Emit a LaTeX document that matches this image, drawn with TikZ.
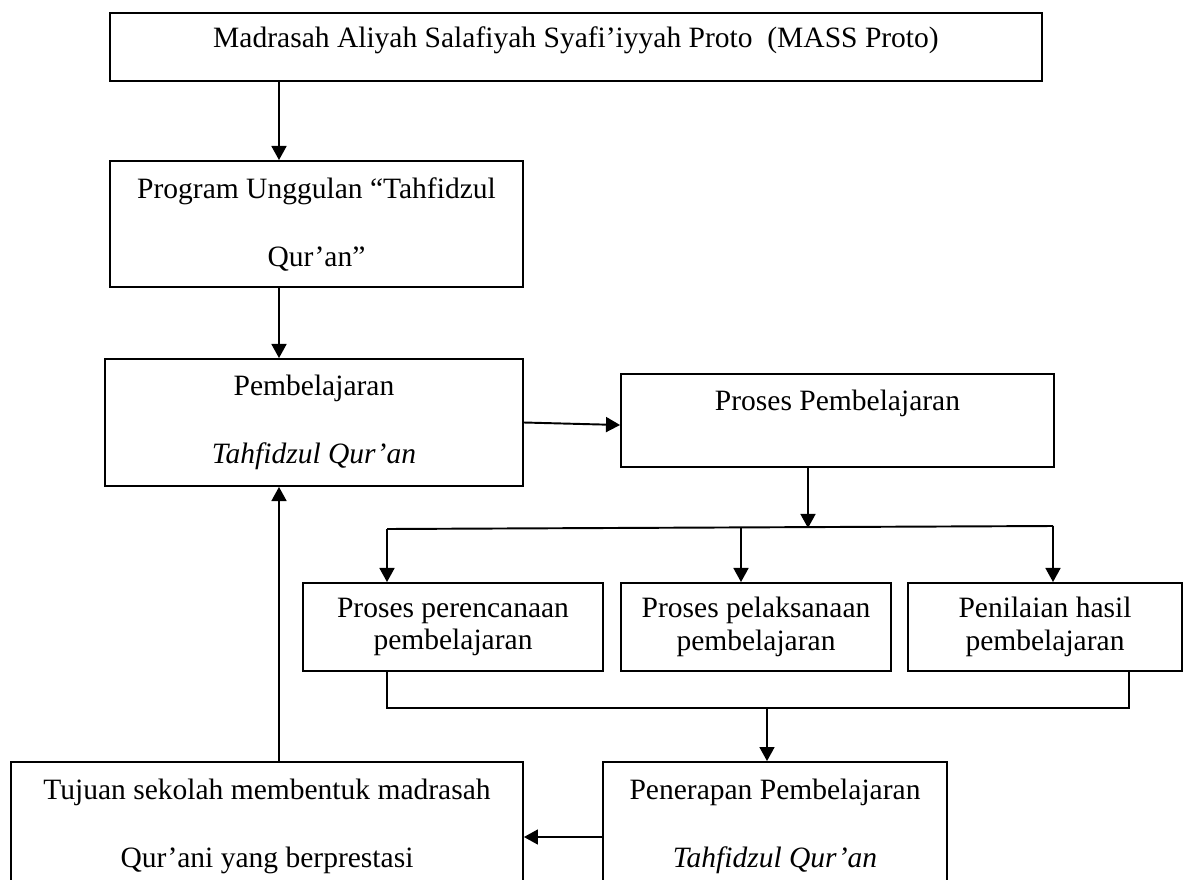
\documentclass[tikz,border=0pt]{standalone}
\usepackage{fontspec}
\setmainfont{Liberation Serif}
\usetikzlibrary{arrows.meta, calc}

\begin{document}
\begin{tikzpicture}[x=0.02cm, y=-0.02cm, line width=1.1pt,
  font=\fontsize{16.8}{18.5}\selectfont, >={Triangle[length=8pt,width=8.5pt]},
  box/.style={draw, line width=1.1pt, align=center, inner sep=0pt}]
  \useasboundingbox (0,0) rectangle (1186,879);
  \clip (0,0) rectangle (1186,879);

  \node[box, minimum width=18.64cm, minimum height=1.36cm, text depth=11.6pt] (mass) at (576,47)
    {Madrasah Aliyah Salafiyah Syafi’iyyah Proto~~(MASS Proto)};
  \node[box, minimum width=8.26cm, minimum height=2.52cm] (unggul) at (316.5,224)
    {Program Unggulan “Tahfidzul\\[20.2pt] Qur’an”};
  \node[box, minimum width=8.36cm, minimum height=2.54cm] (pemb) at (314,422.5)
    {Pembelajaran\\[20.2pt] \textit{Tahfidzul Qur’an}};
  \node[box, minimum width=8.66cm, minimum height=1.86cm, text depth=23.6pt] (proses) at (837.5,420.5)
    {Proses Pembelajaran};

  \node[box, minimum width=6cm, minimum height=1.76cm] (rencana) at (453,627)
    {Proses perencanaan\\ pembelajaran};
  \node[box, minimum width=5.4cm, minimum height=1.76cm] (laksana) at (756,627)
    {Proses pelaksanaan\\ pembelajaran};
  \node[box, minimum width=5.48cm, minimum height=1.76cm] (nilai) at (1045,627)
    {Penilaian hasil\\ pembelajaran};

  % bottom row runs off the page
  \node[box, minimum width=6.88cm, minimum height=2.56cm] (terap) at (775,826)
    {Penerapan Pembelajaran\\[20.2pt] \textit{Tahfidzul Qur’an}};
  \node[box, minimum width=10.24cm, minimum height=2.56cm] (tujuan) at (267,826)
    {Tujuan sekolah membentuk madrasah\\[20.2pt] Qur’ani yang berprestasi};

  % left column
  \coordinate (lx) at (279,0);
  \draw[->] (mass.south -| lx) -- (unggul.north -| lx);
  \draw[->] (unggul.south -| lx) -- (pemb.north -| lx);
  \draw[->] (tujuan.north -| lx) -- (pemb.south -| lx);
  \coordinate (py) at (0,425);
  \draw[->] (pemb.east) -- (proses.west |- py);

  % split into three
  \coordinate (b1) at (808,528);
  \coordinate (b1l) at (387,529);
  \coordinate (b1m) at (741,528);
  \coordinate (b1r) at (1053,526);
  \draw[->] (proses.south -| b1) -- (b1);
  \draw (b1l) -- (b1r);
  \draw[->] (b1l) -- (rencana.north -| b1l);
  \draw[->] (b1m) -- (laksana.north -| b1m);
  \draw[->] (b1r) -- (nilai.north -| b1r);

  % join again
  \coordinate (b2) at (767,708);
  \coordinate (b2r) at (1129,708);
  \draw (rencana.south -| b1l) |- (b2r) -- (nilai.south -| b2r);
  \draw[->] (b2) -- (terap.north -| b2);
  \coordinate (ty) at (0,837);
  \draw[->] (terap.west |- ty) -- (tujuan.east |- ty);
\end{tikzpicture}
\end{document}
